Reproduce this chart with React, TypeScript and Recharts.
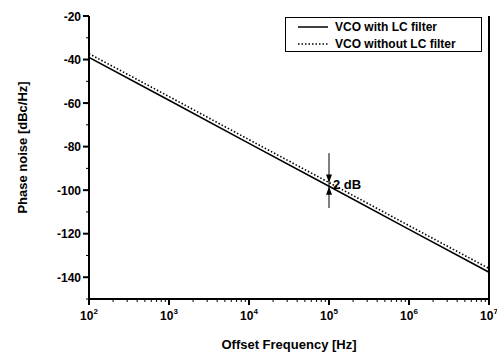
import { LineChart, Line, XAxis, YAxis, Legend, ReferenceLine, ReferenceDot } from "recharts";

// offset frequency [Hz] and phase noise [dBc/Hz]
const freqs = [1e2, 1e3, 1e4, 1e5, 1e6, 1e7];
const withFilter = [-39, -58.7, -78.5, -98.2, -118, -137.7];
const withoutFilter = [-37.3, -57, -76.8, -96.5, -116.3, -136];

const decadeTicks = [2, 3, 4, 5, 6, 7];
const yMajor = [-140, -120, -100, -80, -60, -40, -20];
const yTicks = [-150, -140, -130, -120, -110, -100, -90, -80, -70, -60, -50, -40, -30, -20];

const data = freqs.map((f, i) => ({ f, a: withFilter[i], b: withoutFilter[i] }));

const xTicks: number[] = [];
decadeTicks.forEach((d) => {
  xTicks.push(Math.pow(10, d));
  if (d < 7) for (let m = 2; m <= 9; m++) xTicks.push(m * Math.pow(10, d));
});

const font = "'Liberation Sans', Arial, sans-serif";
const axisStyle = { stroke: "#000", strokeWidth: 2 };

const XTick = (props: any) => {
  const { x, y, payload } = props;
  const lg = Math.log10(payload.value);
  const major = Math.abs(lg - Math.round(lg)) < 1e-6;
  if (!major) return <line x1={x} x2={x} y1={y} y2={y + 3} stroke="#000" strokeWidth={1} />;
  return (
    <g>
      <line x1={x} x2={x} y1={y} y2={y + 6} stroke="#000" strokeWidth={2} />
      <text x={x} y={y + 21} textAnchor="middle" fontFamily={font} fontWeight="bold" fontSize={12} fill="#000">
        10
        <tspan dy={-6} fontSize={8}>{Math.round(lg)}</tspan>
      </text>
    </g>
  );
};

const YTick = (props: any) => {
  const { x, y, payload } = props;
  const major = yMajor.includes(payload.value);
  if (!major) return <line x1={x} x2={x - 3} y1={y} y2={y} stroke="#000" strokeWidth={1} />;
  return (
    <g>
      <line x1={x} x2={x - 6} y1={y} y2={y} stroke="#000" strokeWidth={2} />
      <text x={x - 8} y={y + 4.5} textAnchor="end" fontFamily={font} fontWeight="bold" fontSize={12} fill="#000">
        {payload.value}
      </text>
    </g>
  );
};

const LegendBox = () => (
  <div
    style={{
      border: "1px solid #000",
      background: "#fff",
      width: 195,
      height: 33,
      fontFamily: font,
      fontWeight: "bold",
      fontSize: 12,
      color: "#000",
      boxSizing: "content-box",
    }}
  >
    {[
      { label: "VCO with LC filter", dash: undefined },
      { label: "VCO without LC filter", dash: "1.5 2" },
    ].map((it, i) => (
      <div key={i} style={{ display: "flex", alignItems: "center", height: 16.5, marginTop: i === 0 ? 1 : 0 }}>
        <svg width={50} height={10} style={{ marginLeft: 12 }}>
          <line x1={0} x2={30} y1={5} y2={5} stroke="#000" strokeWidth={1.5} strokeDasharray={it.dash} />
        </svg>
        <span style={{ marginLeft: -13 }}>{it.label}</span>
      </div>
    ))}
  </div>
);

const ArrowDown = (props: any) => {
  const { cx, cy } = props;
  return <path d={`M${cx - 3},${cy - 8} L${cx + 3},${cy - 8} L${cx},${cy} Z`} fill="#000" />;
};
const ArrowUp = (props: any) => {
  const { cx, cy } = props;
  return <path d={`M${cx - 3},${cy + 8} L${cx + 3},${cy + 8} L${cx},${cy} Z`} fill="#000" />;
};
const DbText = (props: any) => {
  const { cx, cy } = props;
  return (
    <text x={cx + 4} y={cy + 5} fontFamily={font} fontWeight="bold" fontSize={13} fill="#000">
      2 dB
    </text>
  );
};

const YLabel = (props: any) => {
  const { viewBox } = props;
  const cx = 22;
  const cy = viewBox.y + viewBox.height / 2 - 10;
  return (
    <text
      x={cx}
      y={cy}
      transform={`rotate(-90 ${cx} ${cy})`}
      textAnchor="middle"
      dominantBaseline="central"
      fontFamily={font}
      fontWeight="bold"
      fontSize={13}
      fill="#000"
    >
      Phase noise [dBc/Hz]
    </text>
  );
};

export default function App() {
  return (
    <div style={{ position: "absolute", left: 0, top: 0, width: 497, height: 354, background: "#fff" }}>
      <LineChart width={497} height={354} data={data} margin={{ top: 16, right: 7, bottom: 0, left: 0 }}>
        <XAxis
          dataKey="f"
          type="number"
          scale="log"
          domain={[1e2, 1e7]}
          ticks={xTicks}
          interval={0}
          tick={<XTick />}
          tickLine={false}
          tickSize={0}
          tickMargin={0}
          height={55}
          allowDataOverflow
          axisLine={axisStyle}
          label={{
            value: "Offset Frequency [Hz]",
            position: "insideBottom",
            offset: 5,
            style: { fontFamily: font, fontWeight: "bold", fontSize: 13, fill: "#000" },
          }}
        />
        <XAxis
          xAxisId="top"
          orientation="top"
          type="number"
          scale="log"
          domain={[1e2, 1e7]}
          tick={false}
          tickLine={false}
          height={0}
          allowDataOverflow
          axisLine={axisStyle}
        />
        <YAxis
          type="number"
          domain={[-150, -20]}
          ticks={yTicks}
          interval={0}
          tick={<YTick />}
          tickLine={false}
          tickSize={0}
          tickMargin={0}
          width={89}
          allowDataOverflow
          axisLine={axisStyle}
          label={<YLabel />}
        />
        <YAxis
          yAxisId="right"
          orientation="right"
          type="number"
          domain={[-150, -20]}
          tick={false}
          tickLine={false}
          width={1}
          axisLine={axisStyle}
        />
        <Legend
          layout="horizontal"
          verticalAlign="middle"
          align="center"
          content={<LegendBox />}
          wrapperStyle={{ position: "absolute", top: 17, left: 285, width: 197, height: 35 }}
        />
        <Line type="linear" dataKey="a" stroke="#000" strokeWidth={1.6} dot={false} isAnimationActive={false} />
        <Line
          type="linear"
          dataKey="b"
          stroke="#000"
          strokeWidth={1.6}
          strokeDasharray="1.5 2"
          dot={false}
          isAnimationActive={false}
        />
        <ReferenceLine
          segment={[
            { x: 1e5, y: -83 },
            { x: 1e5, y: -108.2 },
          ]}
          stroke="#000"
          strokeWidth={1}
        />
        <ReferenceDot x={1e5} y={-96.5} shape={<ArrowDown />} />
        <ReferenceDot x={1e5} y={-98.4} shape={<ArrowUp />} />
        <ReferenceDot x={1e5} y={-97.4} shape={<DbText />} />
      </LineChart>
    </div>
  );
}
